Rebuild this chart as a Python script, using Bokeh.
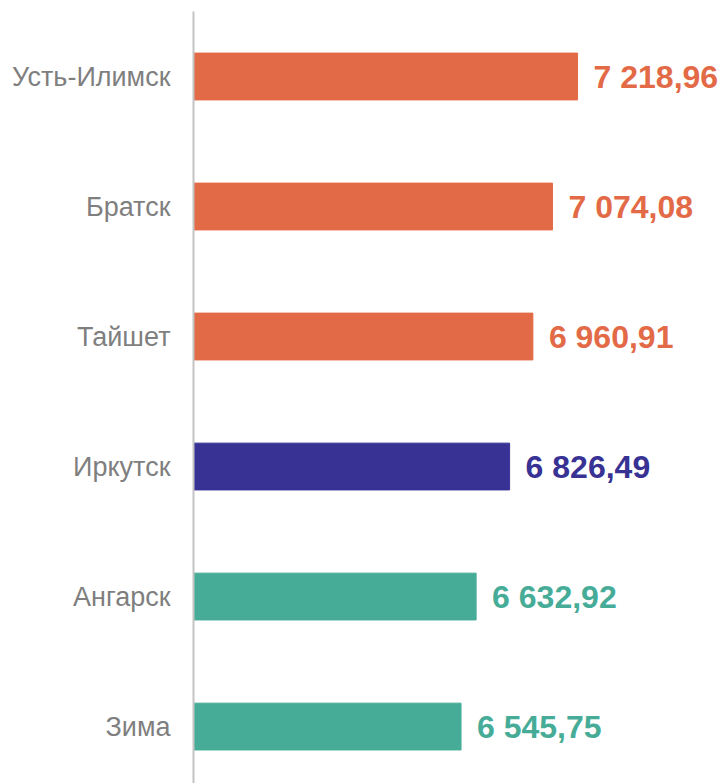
from bokeh.plotting import figure
from bokeh.models import ColumnDataSource, Range1d, FixedTicker
from bokeh.core.properties import value
from bokeh.embed import file_html
from bokeh.resources import INLINE

cities = ["Усть-Илимск", "Братск", "Тайшет", "Иркутск", "Ангарск", "Зима"]
values = [7218.96, 7074.08, 6960.91, 6826.49, 6632.92, 6545.75]
colors = ["#E36A47", "#E36A47", "#E36A47", "#373294", "#46AC98", "#46AC98"]

def fmt(v):
    s = f"{v:,.2f}"
    return s.replace(",", " ").replace(".", ",")

positions = list(range(len(cities)))
labels = [fmt(v) for v in values]

src = ColumnDataSource(dict(y=positions, v=values, c=colors, lab=labels,
                            base=[5000] * len(values)))

p = figure(width=724, height=783, output_backend="svg", toolbar_location=None,
           x_range=Range1d(5000, 8068), y_range=Range1d(5.438, -0.5),
           min_border_left=193, min_border_right=0, min_border_top=11,
           min_border_bottom=0)

p.hbar(y="y", left="base", right="v", height=0.36, color="c", source=src)
p.text(x="v", y="y", text="lab", text_color="c", source=src,
       x_offset=16, text_align="left", text_baseline="middle",
       text_font=value("Liberation Sans"), text_font_style="bold",
       text_font_size="32px")

p.xaxis.visible = False
p.grid.visible = False
p.outline_line_color = None

ya = p.yaxis[0]
ya.ticker = FixedTicker(ticks=positions)
ya.major_label_overrides = {i: c for i, c in zip(positions, cities)}
ya.major_tick_line_color = None
ya.minor_tick_line_color = None
ya.major_tick_out = 0
ya.major_tick_in = 0
ya.major_label_standoff = 23
ya.axis_line_color = "#C4C4C4"
ya.axis_line_width = 2
ya.major_label_text_font = "Liberation Sans"
ya.major_label_text_font_size = "27px"
ya.major_label_text_color = "#7F7F7F"

open("out.html", "w").write(file_html(p, INLINE))
